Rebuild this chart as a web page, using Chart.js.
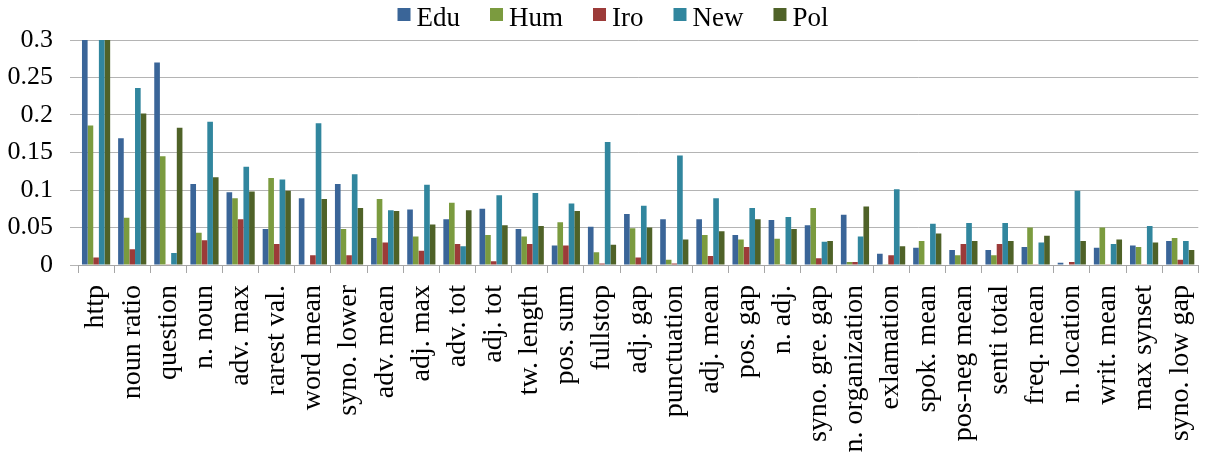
<!DOCTYPE html>
<html>
<head>
<meta charset="utf-8">
<script src="https://cdn.jsdelivr.net/npm/chart.js@4/dist/chart.umd.min.js"></script>
<style>
  html, body { margin: 0; padding: 0; background: #fff; }
  #box { width: 1226px; height: 455px; }
</style>
</head>
<body>
<div id="box"><canvas id="grafico"></canvas></div>
<script>
// categorie (feature) sull'asse x
var categorie = ['http', 'noun ratio', 'question', 'n. noun', 'adv. max', 'rarest val.', 'word mean',
    'syno. lower', 'adv. mean', 'adj. max', 'adv. tot', 'adj. tot', 'tw. length', 'pos. sum', 'fullstop',
    'adj. gap', 'punctuation', 'adj. mean', 'pos. gap', 'n. adj.', 'syno. gre. gap', 'n. organization',
    'exlamation', 'spok. mean', 'pos-neg mean', 'senti total', 'freq. mean', 'n. location', 'writ. mean',
    'max synset', 'syno. low gap'];

var serie = ['Edu', 'Hum', 'Iro', 'New', 'Pol'];

var edu = [0.3, 0.169, 0.270, 0.108, 0.097, 0.048, 0.089, 0.108, 0.036, 0.074, 0.061, 0.075, 0.048, 0.026, 0.051,
    0.068, 0.061, 0.061, 0.040, 0.060, 0.053, 0.067, 0.015, 0.023, 0.020, 0.020, 0.024, 0.003, 0.023, 0.026, 0.032];
var hum = [0.186, 0.063, 0.145, 0.043, 0.089, 0.116, 0, 0.048, 0.088, 0.038, 0.083, 0.040, 0.038, 0.057, 0.017,
    0.049, 0.007, 0.040, 0.034, 0.035, 0.076, 0.004, 0.001, 0.032, 0.013, 0.013, 0.050, 0, 0.050, 0.024, 0.036];
var iro = [0.010, 0.021, 0.001, 0.033, 0.061, 0.028, 0.013, 0.013, 0.030, 0.019, 0.028, 0.005, 0.028, 0.026, 0.002,
    0.010, 0.002, 0.012, 0.024, 0.001, 0.009, 0.004, 0.013, 0, 0.028, 0.028, 0.001, 0.004, 0.001, 0.001, 0.007];
var nuw = [0.3, 0.236, 0.016, 0.191, 0.131, 0.114, 0.189, 0.121, 0.073, 0.107, 0.025, 0.093, 0.096, 0.082, 0.164,
    0.079, 0.146, 0.089, 0.076, 0.064, 0.031, 0.038, 0.101, 0.055, 0.056, 0.056, 0.030, 0.099, 0.028, 0.052, 0.032];
var pol = [0.3, 0.202, 0.183, 0.117, 0.098, 0.099, 0.088, 0.076, 0.072, 0.054, 0.073, 0.053, 0.052, 0.072, 0.027,
    0.050, 0.034, 0.045, 0.061, 0.048, 0.032, 0.078, 0.025, 0.042, 0.032, 0.032, 0.039, 0.032, 0.034, 0.030, 0.020];

var tickY = [0, 0.05, 0.1, 0.15, 0.2, 0.25, 0.3];

var colori = ['#3A6598', '#7B9B3F', '#9C3B39', '#31869E', '#4F6228'];
var font = '"Liberation Serif", "Times New Roman", serif';

// legenda disegnata a mano, centrata in alto
var legenda = {
    id: 'legenda',
    afterDraw: function(chart) {
        var ctx = chart.ctx;
        ctx.save();
        ctx.font = '27px ' + font;
        var larghezze = [];
        var totale = 0;
        for (var i = 0; i < serie.length; i++) {
            var w = ctx.measureText(serie[i]).width;
            larghezze.push(w);
            totale += 13 + 6 + w;
        }
        totale += 30 * (serie.length - 1);
        var x = (chart.width - totale) / 2;
        ctx.textBaseline = 'alphabetic';
        ctx.textAlign = 'left';
        for (var j = 0; j < serie.length; j++) {
            ctx.fillStyle = colori[j];
            ctx.fillRect(x, 8, 13, 13);
            ctx.fillStyle = '#000';
            ctx.fillText(serie[j], x + 19, 26);
            x += 19 + larghezze[j] + 30;
        }
        ctx.restore();
    }
};

var datasets = [];
var valori = [edu, hum, iro, nuw, pol];
for (var k = 0; k < serie.length; k++) {
    datasets.push({
        label: serie[k],
        data: valori[k],
        backgroundColor: colori[k],
        categoryPercentage: 0.78,
        barPercentage: 1.0
    });
}

var ctx = document.getElementById('grafico');
var chart = new Chart(ctx, {
    type: 'bar',
    data: {
        labels: categorie,
        datasets: datasets
    },
    options: {
        responsive: true,
        maintainAspectRatio: false,
        animation: false,
        layout: { padding: { top: 40, right: 11, left: 0, bottom: 0 } },
        plugins: {
            legend: { display: false },
            tooltip: { enabled: false }
        },
        scales: {
            x: {
                grid: { offset: true, drawOnChartArea: false, drawTicks: true, tickLength: 8, color: '#a6a6a6' },
                border: { display: true, color: '#a6a6a6' },
                ticks: {
                    autoSkip: false, maxRotation: 90, minRotation: 90, padding: 12,
                    color: '#000', font: { family: font, size: 28 }
                },
                afterFit: function(scale) { scale.height = 190; }
            },
            y: {
                min: 0,
                max: 0.3,
                afterBuildTicks: function(scale) {
                    scale.ticks = tickY.map(function(v) { return { value: v }; });
                },
                grid: { color: '#b4b4b4', tickLength: 8, drawTicks: true },
                border: { display: false },
                ticks: {
                    padding: 17, color: '#000', font: { family: font, size: 26 },
                    callback: function(v) { return String(Number(v.toFixed(2))); }
                },
                afterFit: function(scale) { scale.width = 78; }
            }
        }
    },
    plugins: [legenda]
});
</script>
</body>
</html>
